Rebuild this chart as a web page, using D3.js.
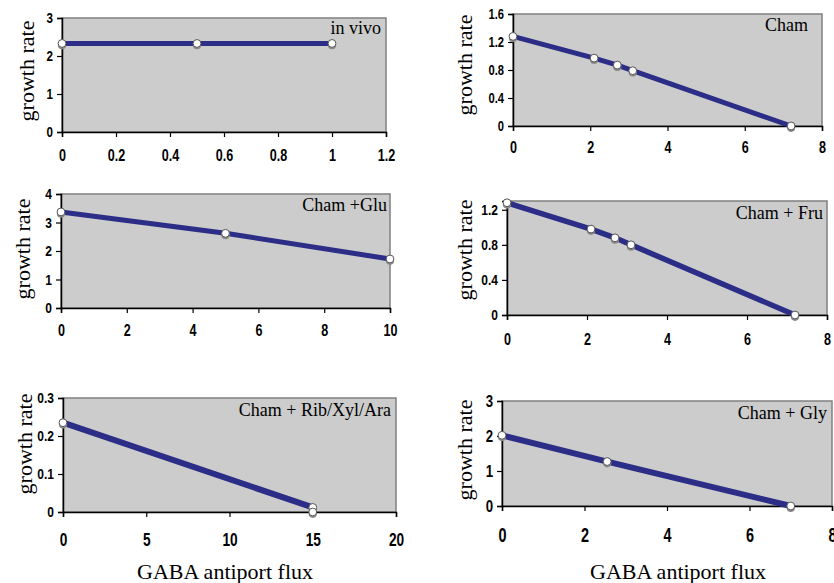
<!DOCTYPE html>
<html>
<head>
<meta charset="utf-8">
<script src="https://cdn.jsdelivr.net/npm/d3@7"></script>
<style>
  body { margin: 0; background: #fff; }
  svg { display: block; }
  .tick text { font-family: "Liberation Sans", Arial, sans-serif; font-weight: bold; fill: #000; }
  .serif { font-family: "Liberation Serif", "Times New Roman", serif; fill: #000; }
</style>
</head>
<body>
<svg id="chart" width="834" height="583"></svg>
<script>
// panel titles
const panelNames = ["in vivo", "Cham", "Cham +Glu", "Cham + Fru", "Cham + Rib/Xyl/Ara", "Cham + Gly"];

// GABA antiport flux (x) and growth rate (y)
const inVivoX = [0, 0.5, 1];
const inVivoY = [2.33, 2.33, 2.33];
const chamX = [0, 2.1, 2.7, 3.1, 7.2];
const chamY = [1.28, 0.97, 0.87, 0.79, 0];
const gluX = [0, 5, 10];
const gluY = [3.37, 2.62, 1.72];
const fruX = [0, 2.1, 2.7, 3.1, 7.2];
const fruY = [1.28, 0.98, 0.88, 0.8, 0];
const ribX = [0, 15, 15];
const ribY = [0.235, 0.012, 0];
const glyX = [0, 2.55, 7];
const glyY = [2.02, 1.27, 0];

// axis domains and tick values
const xDomains = [[0, 1.2], [0, 8], [0, 10], [0, 8], [0, 20], [0, 8]];
const yDomains = [[0, 3], [0, 1.6], [0, 4], [0, 1.3], [0, 0.3], [0, 3]];
const xTicks = [[0, 0.2, 0.4, 0.6, 0.8, 1, 1.2], [0, 2, 4, 6, 8], [0, 2, 4, 6, 8, 10], [0, 2, 4, 6, 8], [0, 5, 10, 15, 20], [0, 2, 4, 6, 8]];
const yTicks = [[0, 1, 2, 3], [0, 0.4, 0.8, 1.2, 1.6], [0, 1, 2, 3, 4], [0, 0.4, 0.8, 1.2], [0, 0.1, 0.2, 0.3], [0, 1, 2, 3]];

const xTitle = "GABA antiport flux";
const yTitle = "growth rate";

// layout: plot box, label positions, font sizes
const layout = [
  {l: 62, r: 386, t: 18, b: 132, ylab: [27, 71], name: [381, 28], xf: 17, yf: 14.5, xoff: 23, lw: 5},
  {l: 513, r: 822, t: 14, b: 126, ylab: [465, 65], name: [808, 25], xf: 17, yf: 14, xoff: 21, lw: 5},
  {l: 61, r: 390, t: 194, b: 308, ylab: [23, 249], name: [387, 205], xf: 17, yf: 15, xoff: 22, lw: 5},
  {l: 507, r: 827, t: 201, b: 315, ylab: [465, 250], name: [823, 213], xf: 17, yf: 15, xoff: 24, lw: 5.5},
  {l: 63, r: 396, t: 398, b: 512, ylab: [25, 444], name: [391, 410], xf: 18.5, yf: 15, xoff: 27, lw: 6},
  {l: 502, r: 832, t: 401, b: 506, ylab: [465, 450], name: [827, 413], xf: 19.5, yf: 16.5, xoff: 29, lw: 6}
];
const sxX = 0.74, sxY = 0.8;

const series = [
  d3.zip(inVivoX, inVivoY), d3.zip(chamX, chamY), d3.zip(gluX, gluY),
  d3.zip(fruX, fruY), d3.zip(ribX, ribY), d3.zip(glyX, glyY)
];
// line path for the Rib panel stops at the upper point at x = 15
const linePts = series.map((s, i) => i === 4 ? s.slice(0, 2) : s);

const svg = d3.select("#chart");
const fmt = d => String(d);

series.forEach((pts, i) => {
  const L = layout[i];
  const x = d3.scaleLinear().domain(xDomains[i]).range([L.l, L.r]);
  const y = d3.scaleLinear().domain(yDomains[i]).range([L.b, L.t]);
  const g = svg.append("g");

  // plot area
  g.append("rect")
    .attr("x", L.l).attr("y", L.t)
    .attr("width", L.r - L.l).attr("height", L.b - L.t)
    .attr("fill", "#cccccc")
    .attr("stroke", "#808080").attr("stroke-width", 1.5);

  // axes
  g.append("g")
    .attr("transform", `translate(0,${L.b})`)
    .call(d3.axisBottom(x).tickValues(xTicks[i]).tickFormat(fmt).tickSizeOuter(0).tickSize(5))
    .call(a => a.select(".domain").attr("stroke", "#000").attr("stroke-width", 1.5))
    .call(a => a.selectAll(".tick line").attr("stroke-width", 1.2))
    .call(a => a.selectAll(".tick text")
      .attr("font-size", L.xf).attr("y", L.xoff).attr("dy", "0.36em")
      .attr("transform", `scale(${sxX},1)`));

  g.append("g")
    .attr("transform", `translate(${L.l},0)`)
    .call(d3.axisLeft(y).tickValues(yTicks[i]).tickFormat(fmt).tickSizeOuter(0).tickSize(5))
    .call(a => a.select(".domain").attr("stroke", "#000").attr("stroke-width", 1.5))
    .call(a => a.selectAll(".tick line").attr("stroke-width", 1.2))
    .call(a => a.selectAll(".tick text")
      .attr("font-size", L.yf).attr("x", -9 / sxY)
      .attr("transform", `scale(${sxY},1)`));

  // data line
  g.append("path")
    .datum(linePts[i])
    .attr("fill", "none")
    .attr("stroke", "#2b2d86")
    .attr("stroke-width", L.lw)
    .attr("d", d3.line().x(d => x(d[0])).y(d => y(d[1])));

  // markers with a soft shadow
  g.append("g").selectAll("circle")
    .data(pts).join("circle")
    .attr("cx", d => x(d[0])).attr("cy", d => y(d[1]) + 1.8)
    .attr("r", 4.1).attr("fill", "#8a8a8a");
  g.append("g").selectAll("circle")
    .data(pts).join("circle")
    .attr("cx", d => x(d[0])).attr("cy", d => y(d[1]))
    .attr("r", 3.9).attr("fill", "#fff")
    .attr("stroke", "#555").attr("stroke-width", 1);

  // panel name
  g.append("text").attr("class", "serif")
    .attr("x", L.name[0]).attr("y", L.name[1])
    .attr("dy", "0.35em").attr("text-anchor", "end")
    .attr("font-size", 18)
    .text(panelNames[i]);

  // y title
  g.append("text").attr("class", "serif")
    .attr("transform", `translate(${L.ylab[0]},${L.ylab[1]}) rotate(-90)`)
    .attr("dy", "0.32em").attr("text-anchor", "middle")
    .attr("font-size", 22)
    .text(yTitle);
});

// x titles under the bottom row
[[225, 579], [678, 579]].forEach(p => {
  svg.append("text").attr("class", "serif")
    .attr("x", p[0]).attr("y", p[1])
    .attr("text-anchor", "middle")
    .attr("font-size", 22)
    .text(xTitle);
});
</script>
</body>
</html>
